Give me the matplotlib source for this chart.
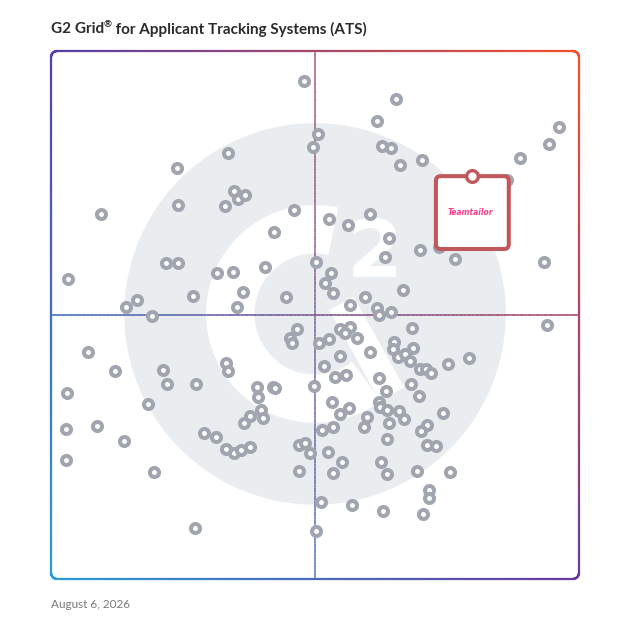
import numpy as np
import matplotlib.pyplot as plt
from matplotlib.patches import Wedge, Circle, FancyBboxPatch
from matplotlib.collections import LineCollection
from matplotlib.transforms import offset_copy

# satisfaction (x) and market presence (y), both on a 0-100 grid scale
satisfaction = [
    47.9, 50.5, 49.7, 33.5, 23.8, 34.6, 35.5, 36.7, 33.0, 24.1, 9.4, 46.0, 42.3,
    50.1, 21.7, 24.1, 31.4, 34.4, 40.6, 3.2, 36.4, 26.8, 44.6, 16.3, 14.2, 35.2, 19.2,
    65.3, 61.8, 96.2, 62.6, 64.3, 94.3, 70.3, 66.1, 88.9, 86.3,
    52.6, 56.2, 60.4, 64.1, 63.3, 69.8, 73.4, 76.5, 93.4, 53.0, 51.9, 53.5, 66.7,
    59.5, 56.6, 61.7, 64.3, 62.1, 93.9,
    46.5, 45.2, 45.7, 7.0, 12.1, 21.2, 21.9, 27.4, 33.2, 33.6, 3.1, 18.4, 39.1, 39.2,
    42.1, 42.5, 49.9, 2.9, 8.8, 13.9, 37.7, 36.5, 39.8, 40.2, 28.9, 31.3, 33.1, 34.7,
    36.0, 37.7, 46.9, 48.1, 49.1, 2.9, 19.6, 46.9, 27.2, 50.1, 51.2,
    54.7, 56.6, 55.7, 57.9, 52.7, 50.8, 68.4, 54.7, 60.4, 65.0, 64.8, 65.8, 67.1,
    68.6, 67.9, 69.8, 71.0, 71.9, 75.2, 79.1, 51.7, 53.8, 55.8, 62.1, 63.4, 68.2,
    69.7, 53.2, 56.5, 54.8, 62.1, 62.3, 63.7, 65.9, 64.1, 66.9, 59.8, 59.2, 74.2,
    71.3, 70.1, 51.4, 53.5, 63.6, 52.4, 55.2, 53.4, 62.5, 63.7, 71.2, 72.9, 69.3,
    75.6, 71.5, 71.5, 57.1, 62.8, 70.4,
]
market_presence = [
    94.3, 84.2, 81.9, 80.6, 77.9, 73.5, 72.0, 72.7, 70.7, 70.8, 69.1, 69.8, 65.8,
    60.1, 59.8, 59.8, 57.9, 58.1, 59.0, 56.9, 54.3, 53.6, 53.4, 52.9, 51.6, 51.5, 49.9,
    91.0, 86.8, 85.6, 82.1, 81.6, 82.3, 79.3, 78.4, 79.8, 75.5,
    68.2, 67.0, 69.1, 64.5, 61.0, 62.4, 62.8, 60.7, 60.1, 57.9, 56.0, 54.2, 54.8,
    53.5, 51.9, 51.4, 50.6, 50.0, 48.2,
    47.4, 45.7, 44.7, 42.9, 39.3, 39.6, 36.9, 36.9, 40.9, 39.3, 35.2, 33.1, 36.4, 34.4,
    36.4, 36.1, 36.6, 28.5, 29.0, 26.1, 30.9, 29.5, 32.1, 30.4, 27.6, 26.8, 24.7, 23.8,
    24.5, 25.0, 25.4, 25.7, 23.9, 22.6, 20.3, 20.4, 9.7, 9.0, 14.5,
    47.3, 47.7, 46.5, 45.6, 45.4, 44.7, 47.5, 42.3, 42.9, 44.8, 43.6, 42.1, 42.6,
    43.8, 41.2, 39.8, 39.7, 39.0, 40.7, 41.9, 40.4, 38.3, 38.6, 38.0, 35.7, 36.9,
    34.7, 33.5, 32.4, 31.2, 33.6, 32.5, 32.0, 31.9, 29.6, 30.3, 30.7, 28.8, 31.5,
    29.2, 28.1, 28.2, 28.8, 26.6, 24.0, 22.2, 20.0, 22.2, 19.8, 25.3, 25.1, 20.5,
    20.3, 16.9, 15.3, 14.0, 12.8, 12.3,
]
highlight_name = "Teamtailor"
highlight_x = 79.8
highlight_y = 76.3

title_parts = ["G2 Grid", "®", " for Applicant Tracking Systems (ATS)"]
date_label = "August 6, 2026"

# corner colours of the gradient frame
c_tl = np.array([0x55, 0x40, 0xa8]) / 255
c_tr = np.array([0xf5, 0x50, 0x2d]) / 255
c_bl = np.array([0x2a, 0x9c, 0xd8]) / 255
c_br = np.array([0x6a, 0x3a, 0x9c]) / 255


def grad(u, v):
    return ((1 - u) * v * c_tl + u * v * c_tr
            + (1 - u) * (1 - v) * c_bl + u * (1 - v) * c_br)


def gradient_line(ax, xs, ys, lw, alpha=1.0, z=2):
    pts = np.column_stack([xs, ys])
    segs = np.stack([pts[:-1], pts[1:]], axis=1)
    mid = (pts[:-1] + pts[1:]) / 2
    cols = [np.append(grad(np.clip(m[0] / 100, 0, 1), np.clip(m[1] / 100, 0, 1)), alpha) for m in mid]
    ax.add_collection(LineCollection(segs, colors=cols, linewidths=lw,
                                     capstyle='round', zorder=z, clip_on=False))


def rounded_rect(r=1.2):
    xs, ys = [], []
    corners = [(100 - r, 100 - r, 0), (r, 100 - r, 90), (r, r, 180), (100 - r, r, 270)]
    for cx, cy, a0 in corners:
        t = np.radians(np.linspace(a0, a0 + 90, 20))
        xs.extend(cx + r * np.cos(t))
        ys.extend(cy + r * np.sin(t))
    xs.append(xs[0])
    ys.append(ys[0])
    # densify so the gradient is smooth along straight sides
    xs, ys = np.array(xs), np.array(ys)
    out_x, out_y = [], []
    for i in range(len(xs) - 1):
        k = max(2, int(np.hypot(xs[i + 1] - xs[i], ys[i + 1] - ys[i]) * 2))
        out_x.extend(np.linspace(xs[i], xs[i + 1], k, endpoint=False))
        out_y.extend(np.linspace(ys[i], ys[i + 1], k, endpoint=False))
    out_x.append(xs[-1])
    out_y.append(ys[-1])
    return np.array(out_x), np.array(out_y)


fig = plt.figure(figsize=(6.28, 6.28), dpi=100)
ax = fig.add_axes([51 / 628, 49 / 628, 528 / 628, 528 / 628])
ax.set_xlim(0, 100)
ax.set_ylim(0, 100)
ax.axis('off')

# G2 watermark
wm = '#eaedf0'
ax.add_patch(Circle((50, 50.2), 36, color=wm, zorder=0))
ax.add_patch(Wedge((50, 50.2), 20.5, 78, 307, width=8.9, color='white', zorder=0.5))
ax.plot([55.0, 64.6], [52.2, 35.0], color='white', lw=20, solid_capstyle='butt', zorder=0.5)
ax.text(61.2, 61.3, '2', color='white', fontsize=58, fontweight='bold',
        ha='center', va='center', zorder=0.6)

# frame + quadrant lines
bx, by = rounded_rect()
gradient_line(ax, bx, by, lw=1.6)
ly = np.linspace(0, 100, 200)
gradient_line(ax, np.full_like(ly, 50), ly, lw=1.2, alpha=0.7, z=1.5)
gradient_line(ax, ly, np.full_like(ly, 50), lw=1.2, alpha=0.85, z=1.5)

# products
ax.plot(satisfaction, market_presence, 'o', ms=6.5, mfc='white', mec='#a0a5b0',
        mew=2.9, ls='none', zorder=3, clip_on=False)

# highlighted product with its logo box
box = 13.8
ax.add_patch(FancyBboxPatch((highlight_x - box / 2, highlight_y - box), box, box,
                            boxstyle='round,pad=0,rounding_size=0.9',
                            fc='white', ec='#c0575a', lw=2.9, zorder=4))
ax.text(highlight_x - 0.3, highlight_y - box / 2, highlight_name, color='#ff3d8b',
        fontsize=5.5, fontweight='bold', fontstyle='italic',
        ha='center', va='center', zorder=5)
ax.plot([highlight_x], [highlight_y], 'o', ms=8.4, mfc='white', mec='#c0575a',
        mew=2.4, zorder=6, clip_on=False)

# title with a small raised ®
renderer = fig.canvas.get_renderer()
t1 = fig.text(51 / 628, 1 - 29 / 628, title_parts[0], fontsize=11, fontweight='bold',
              family='Lato', color='#2b2b2b', ha='left', va='center')
w1 = t1.get_window_extent(renderer).width
t2 = fig.text(51 / 628 + w1 / 628, 1 - 25 / 628, title_parts[1], fontsize=7,
              fontweight='bold', family='Lato', color='#2b2b2b', ha='left', va='center')
w2 = t2.get_window_extent(renderer).width
fig.text(51 / 628 + (w1 + w2) / 628, 1 - 29 / 628, title_parts[2], fontsize=11,
         fontweight='bold', family='Lato', color='#2b2b2b', ha='left', va='center')

fig.text(51 / 628, 1 - 604 / 628, date_label, fontsize=8.5, family='Lato',
         color='#7a7a7a', ha='left', va='center')

fig.savefig('out.png', dpi=100)
